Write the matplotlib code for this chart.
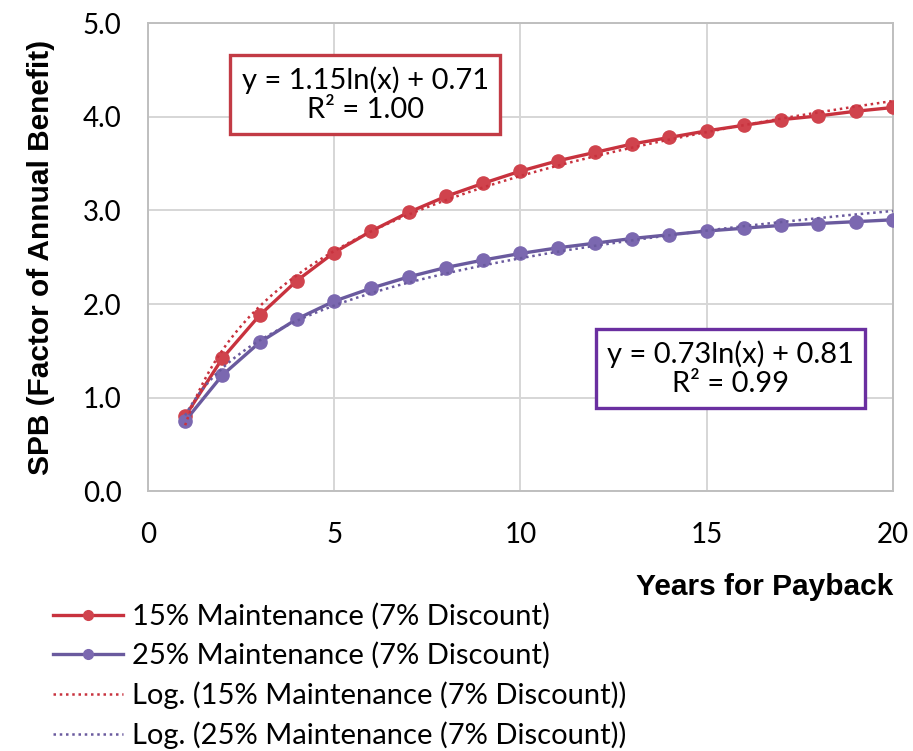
import numpy as np
import matplotlib
matplotlib.use("Agg")
import matplotlib.pyplot as plt
import matplotlib.ticker as ticker

# data
years = list(range(1, 21))
spb_15 = [0.80, 1.42, 1.88, 2.25, 2.55, 2.78, 2.98, 3.15, 3.29, 3.42,
          3.53, 3.62, 3.71, 3.78, 3.85, 3.91, 3.97, 4.01, 4.06, 4.10]
spb_25 = [0.75, 1.24, 1.59, 1.84, 2.03, 2.17, 2.29, 2.39, 2.47, 2.54,
          2.60, 2.65, 2.70, 2.74, 2.78, 2.81, 2.84, 2.86, 2.88, 2.90]
labels = ['15% Maintenance (7% Discount)', '25% Maintenance (7% Discount)']
eq_15 = 'y = 1.15ln(x) + 0.71\nR² = 1.00'
eq_25 = 'y = 0.73ln(x) + 0.81\nR² = 0.99'

red = '#C8323E'
red_mk = '#D0434D'
purple = '#6A5A9E'
purple_mk = '#7B68B0'

fig = plt.figure(figsize=(9.13, 7.51), dpi=100)
ax = fig.add_axes([0.162, 0.346, 0.816, 0.623])

x = np.array(years, dtype=float)
ax.plot(x, spb_15, color=red, lw=2.4, marker='o', ms=9.5, mfc=red_mk, mec=red_mk,
        label=labels[0], zorder=3)
ax.plot(x, spb_25, color=purple, lw=2.4, marker='o', ms=9.5, mfc=purple_mk, mec=purple_mk,
        label=labels[1], zorder=3)

# log trendlines fitted on the data
xf = np.linspace(1, 20, 200)
for ys, col, lab in [(spb_15, red, labels[0]), (spb_25, purple, labels[1])]:
    a, b = np.polyfit(np.log(x), ys, 1)
    ax.plot(xf, a * np.log(xf) + b, color=col, lw=1.8, ls=(0, (1, 1.5)),
            label='Log. (' + lab + ')', zorder=4)

ax.set_xlim(0, 20)
ax.set_ylim(0, 5)
ax.xaxis.set_major_locator(ticker.MultipleLocator(5))
ax.yaxis.set_major_locator(ticker.MultipleLocator(1))
ax.yaxis.set_major_formatter(ticker.FormatStrFormatter('%.1f'))
ax.grid(True, color='#D6D6D6', lw=1.4)
ax.set_axisbelow(True)
for s in ax.spines.values():
    s.set_color('#BFBFBF')
    s.set_linewidth(1.4)
ax.tick_params(length=0, labelsize=20)
ax.tick_params(axis='x', pad=22)
ax.tick_params(axis='y', pad=19)
for t in ax.get_xticklabels() + ax.get_yticklabels():
    t.set_fontfamily('Lato')

ax.set_ylabel('SPB (Factor of Annual Benefit)', fontsize=21.5, fontweight='bold',
              fontfamily='Liberation Sans', labelpad=20)
ax.set_xlabel('Years for Payback', fontsize=21.5, fontweight='bold',
              fontfamily='Liberation Sans', loc='right', labelpad=18)

ax.text(5.83, 4.24, eq_15, ha='center', va='center', fontsize=21, family='Lato',
        linespacing=1.15,
        bbox=dict(boxstyle='square,pad=0.38', fc='white', ec='#C23B45', lw=2.4), zorder=6)
ax.text(15.65, 1.31, eq_25, ha='center', va='center', fontsize=21, family='Lato',
        linespacing=1.15,
        bbox=dict(boxstyle='square,pad=0.38', fc='white', ec='#6A2FA0', lw=2.4), zorder=6)

leg = fig.legend(loc='upper left', bbox_to_anchor=(0.058, 0.197), frameon=False,
                 prop={'family': 'Lato', 'size': 21}, handlelength=2.4,
                 handletextpad=0.3, labelspacing=0.42, borderpad=0, borderaxespad=0)
for h in leg.legend_handles:
    h.set_markersize(7)

fig.savefig('out.png', dpi=100)
